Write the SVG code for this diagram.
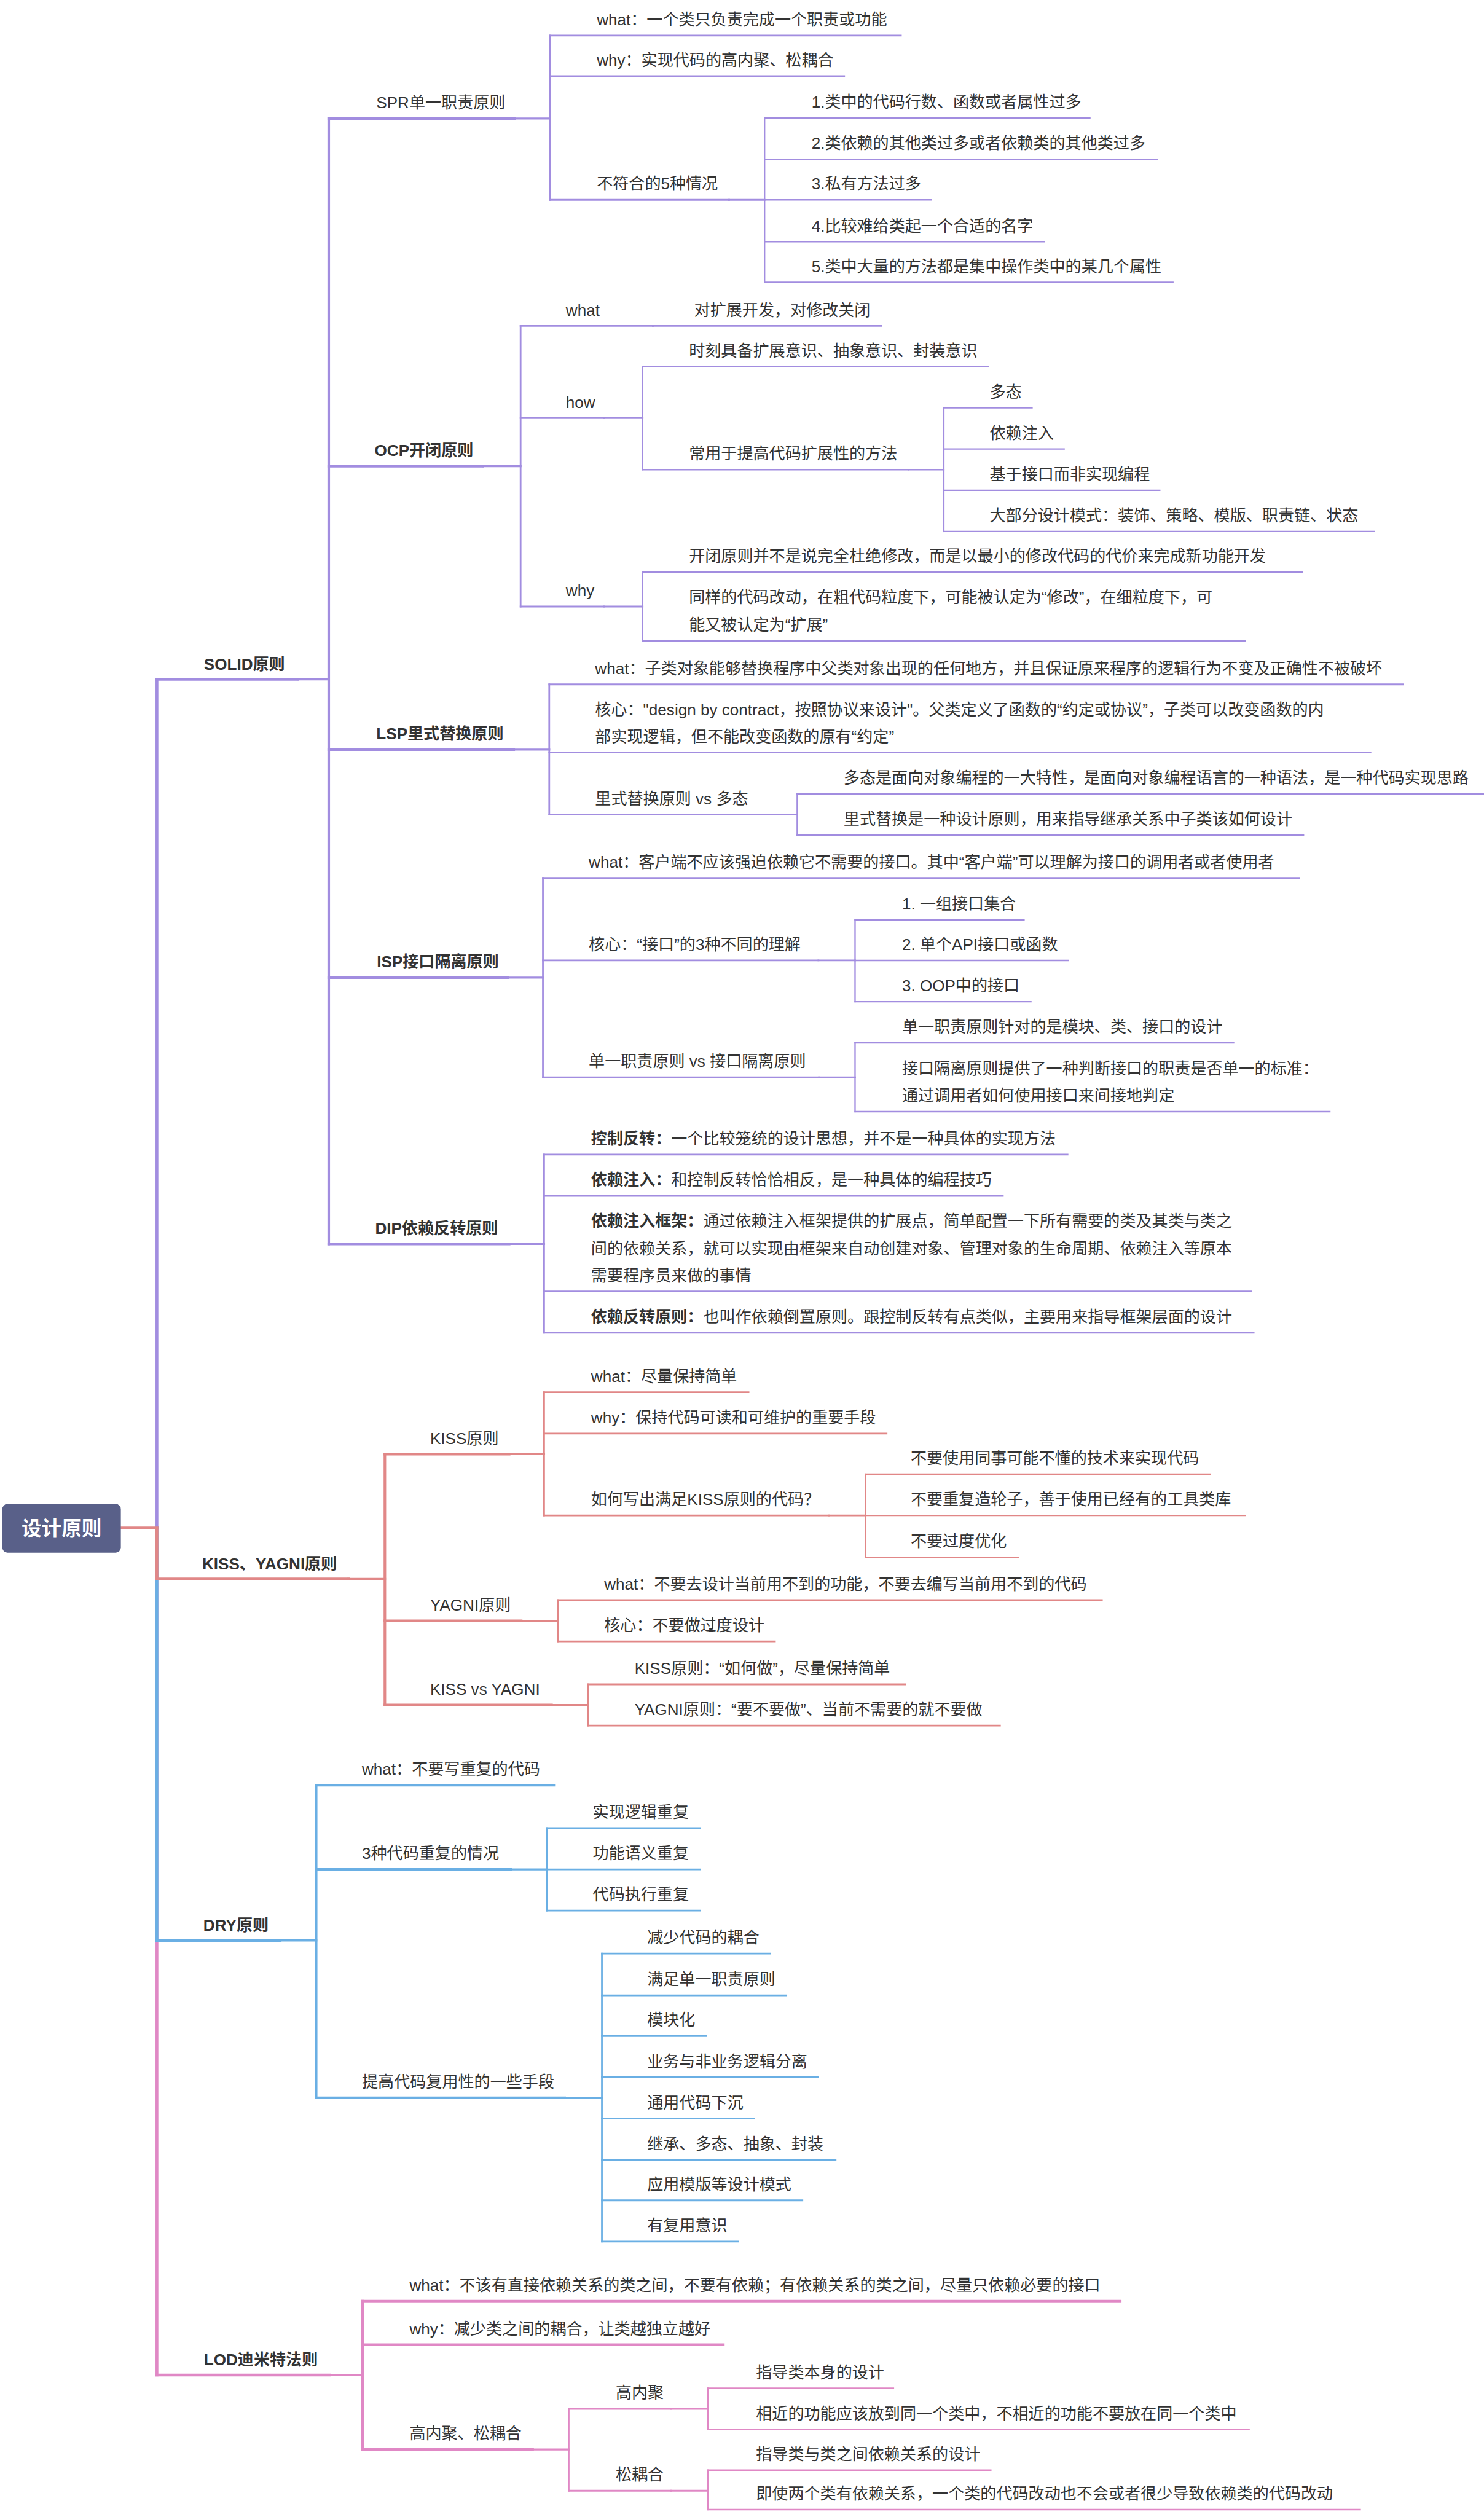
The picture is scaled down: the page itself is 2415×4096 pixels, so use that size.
<svg xmlns="http://www.w3.org/2000/svg" width="2415" height="4096" viewBox="0 0 2415 4096">
<style>
.t{font-family:"Liberation Sans","Noto Sans CJK SC",sans-serif;font-size:28px;fill:#333}
.b{font-weight:bold}
.root{font-family:"Liberation Sans","Noto Sans CJK SC",sans-serif;font-size:35px;font-weight:bold;fill:#fff}
line,path{fill:none;stroke-linecap:square}
.P{stroke:#a28de0}.R{stroke:#e18787}.B{stroke:#6aafe4}.K{stroke:#e088c5}
.w5{stroke-width:5}.w45{stroke-width:4.5}.w4{stroke-width:4}.w35{stroke-width:3.5}.w3{stroke-width:3}.w25{stroke-width:2.5}
</style>
<rect width="2415" height="4096" fill="#fff"/>
<g transform="scale(0.932)">
<g id="connectors">
<path class="K w5" d="M274 2668V4147"/>
<path class="B w5" d="M274 2668V3388"/>
<path class="R w5" d="M274 2668V2757"/>
<path class="P w5" d="M274 2668V1186"/>
<line class="R w5" x1="213" y1="2668" x2="274" y2="2668"/>
<line class="P w4" x1="520" y1="1186" x2="574" y2="1186"/>
<line class="P w45" x1="574" y1="207" x2="574" y2="2172"/>
<line class="R w4" x1="608" y1="2757" x2="672" y2="2757"/>
<line class="R w45" x1="672" y1="2539" x2="672" y2="2977"/>
<line class="B w4" x1="489" y1="3388" x2="552" y2="3388"/>
<line class="B w45" x1="552" y1="3117" x2="552" y2="3663"/>
<line class="K w4" x1="575" y1="4147" x2="633" y2="4147"/>
<line class="K w45" x1="633" y1="4018" x2="633" y2="4277"/>
<line class="P w35" x1="898" y1="207" x2="960" y2="207"/>
<line class="P w3" x1="960" y1="62" x2="960" y2="349"/>
<line class="P w35" x1="843" y1="814" x2="909" y2="814"/>
<line class="P w3" x1="909" y1="569" x2="909" y2="1059"/>
<line class="P w35" x1="897" y1="1309" x2="959" y2="1309"/>
<line class="P w3" x1="959" y1="1195" x2="959" y2="1422"/>
<line class="P w35" x1="887" y1="1707" x2="948" y2="1707"/>
<line class="P w3" x1="948" y1="1533" x2="948" y2="1881"/>
<line class="P w35" x1="889" y1="2172" x2="950" y2="2172"/>
<line class="P w3" x1="950" y1="2016" x2="950" y2="2327"/>
<line class="P w3" x1="1273" y1="349" x2="1335" y2="349"/>
<line class="P w25" x1="1335" y1="206" x2="1335" y2="493"/>
<line class="P w3" x1="1055" y1="730" x2="1122" y2="730"/>
<line class="P w25" x1="1122" y1="640" x2="1122" y2="820"/>
<line class="P w3" x1="1055" y1="1059" x2="1122" y2="1059"/>
<line class="P w25" x1="1122" y1="999" x2="1122" y2="1119"/>
<line class="P w25" x1="1586" y1="820" x2="1648" y2="820"/>
<line class="P w25" x1="1648" y1="712" x2="1648" y2="928"/>
<line class="P w3" x1="1324" y1="1422" x2="1392" y2="1422"/>
<line class="P w25" x1="1392" y1="1386" x2="1392" y2="1458"/>
<line class="P w3" x1="1429" y1="1677" x2="1493" y2="1677"/>
<line class="P w25" x1="1493" y1="1606" x2="1493" y2="1749"/>
<line class="P w3" x1="1430" y1="1881" x2="1493" y2="1881"/>
<line class="P w25" x1="1493" y1="1821" x2="1493" y2="1941"/>
<line class="R w35" x1="889" y1="2539" x2="950" y2="2539"/>
<line class="R w3" x1="950" y1="2431" x2="950" y2="2646"/>
<line class="R w3" x1="1447" y1="2646" x2="1511" y2="2646"/>
<line class="R w25" x1="1511" y1="2574" x2="1511" y2="2719"/>
<line class="R w35" x1="910" y1="2830" x2="974" y2="2830"/>
<line class="R w3" x1="974" y1="2794" x2="974" y2="2866"/>
<line class="R w35" x1="963" y1="2977" x2="1027" y2="2977"/>
<line class="R w3" x1="1027" y1="2941" x2="1027" y2="3013"/>
<line class="B w35" x1="892" y1="3264" x2="955" y2="3264"/>
<line class="B w3" x1="955" y1="3192" x2="955" y2="3336"/>
<line class="B w35" x1="986" y1="3663" x2="1051" y2="3663"/>
<line class="B w3" x1="1051" y1="3411" x2="1051" y2="3914"/>
<line class="K w35" x1="930" y1="4277" x2="993" y2="4277"/>
<line class="K w3" x1="993" y1="4206" x2="993" y2="4349"/>
<line class="K w3" x1="1172" y1="4206" x2="1236" y2="4206"/>
<line class="K w25" x1="1236" y1="4170" x2="1236" y2="4242"/>
<line class="K w3" x1="1172" y1="4349" x2="1236" y2="4349"/>
<line class="K w25" x1="1236" y1="4313" x2="1236" y2="4382"/>
</g>
<g id="root"><rect x="4" y="2626" width="207" height="85" rx="9" fill="#596089"/><text class="root" x="107.5" y="2681" text-anchor="middle">设计原则</text></g>
<g id="n-solid"><text class="t b" x="356" y="1169">SOLID原则</text><line class="P w5" x1="274" y1="1186" x2="520" y2="1186"/></g>
<g id="n-spr"><text class="t" x="657" y="189">SPR单一职责原则</text><line class="P w45" x1="574" y1="207" x2="898" y2="207"/></g>
<g id="n-spr-what"><text class="t" x="1042" y="44">what：一个类只负责完成一个职责或功能</text><line class="P w3" x1="960" y1="62" x2="1573" y2="62"/></g>
<g id="n-spr-why"><text class="t" x="1042" y="115">why：实现代码的高内聚、松耦合</text><line class="P w3" x1="960" y1="133" x2="1474" y2="133"/></g>
<g id="n-spr-5"><text class="t" x="1042" y="331">不符合的5种情况</text><line class="P w3" x1="960" y1="349" x2="1273" y2="349"/></g>
<g id="n-spr-5-1"><text class="t" x="1417" y="188">1.类中的代码行数、函数或者属性过多</text><line class="P w25" x1="1335" y1="206" x2="1903" y2="206"/></g>
<g id="n-spr-5-2"><text class="t" x="1417" y="260">2.类依赖的其他类过多或者依赖类的其他类过多</text><line class="P w25" x1="1335" y1="278" x2="2021" y2="278"/></g>
<g id="n-spr-5-3"><text class="t" x="1417" y="331">3.私有方法过多</text><line class="P w25" x1="1335" y1="349" x2="1626" y2="349"/></g>
<g id="n-spr-5-4"><text class="t" x="1417" y="404">4.比较难给类起一个合适的名字</text><line class="P w25" x1="1335" y1="422" x2="1823" y2="422"/></g>
<g id="n-spr-5-5"><text class="t" x="1417" y="475">5.类中大量的方法都是集中操作类中的某几个属性</text><line class="P w25" x1="1335" y1="493" x2="2048" y2="493"/></g>
<g id="n-ocp"><text class="t b" x="654" y="796">OCP开闭原则</text><line class="P w45" x1="574" y1="814" x2="843" y2="814"/></g>
<g id="n-ocp-what"><text class="t" x="988" y="551">what</text><line class="P w3" x1="909" y1="569" x2="1140" y2="569"/></g>
<g id="n-ocp-what-1"><text class="t" x="1212" y="551">对扩展开发，对修改关闭</text><line class="P w3" x1="1140" y1="569" x2="1539" y2="569"/></g>
<g id="n-ocp-how"><text class="t" x="988" y="712">how</text><line class="P w3" x1="909" y1="730" x2="1055" y2="730"/></g>
<g id="n-ocp-how-1"><text class="t" x="1203" y="622">时刻具备扩展意识、抽象意识、封装意识</text><line class="P w25" x1="1122" y1="640" x2="1726" y2="640"/></g>
<g id="n-ocp-how-2"><text class="t" x="1203" y="802">常用于提高代码扩展性的方法</text><line class="P w25" x1="1122" y1="820" x2="1586" y2="820"/></g>
<g id="n-ocp-how-2-1"><text class="t" x="1728" y="694">多态</text><line class="P w25" x1="1648" y1="712" x2="1802" y2="712"/></g>
<g id="n-ocp-how-2-2"><text class="t" x="1728" y="766">依赖注入</text><line class="P w25" x1="1648" y1="784" x2="1858" y2="784"/></g>
<g id="n-ocp-how-2-3"><text class="t" x="1728" y="838">基于接口而非实现编程</text><line class="P w25" x1="1648" y1="856" x2="2025" y2="856"/></g>
<g id="n-ocp-how-2-4"><text class="t" x="1728" y="910">大部分设计模式：装饰、策略、模版、职责链、状态</text><line class="P w25" x1="1648" y1="928" x2="2400" y2="928"/></g>
<g id="n-ocp-why"><text class="t" x="988" y="1041">why</text><line class="P w3" x1="909" y1="1059" x2="1055" y2="1059"/></g>
<g id="n-ocp-why-1"><text class="t" x="1203" y="981">开闭原则并不是说完全杜绝修改，而是以最小的修改代码的代价来完成新功能开发</text><line class="P w25" x1="1122" y1="999" x2="2274" y2="999"/></g>
<g id="n-ocp-why-2"><text class="t"><tspan x="1203" y="1053">同样的代码改动，在粗代码粒度下，可能被认定为“修改”，在细粒度下，可</tspan><tspan x="1203" y="1101">能又被认定为“扩展”</tspan></text><line class="P w25" x1="1122" y1="1119" x2="2174" y2="1119"/></g>
<g id="n-lsp"><text class="t b" x="657" y="1291">LSP里式替换原则</text><line class="P w45" x1="574" y1="1309" x2="897" y2="1309"/></g>
<g id="n-lsp-what"><text class="t" x="1039" y="1177">what：子类对象能够替换程序中父类对象出现的任何地方，并且保证原来程序的逻辑行为不变及正确性不被破坏</text><line class="P w3" x1="959" y1="1195" x2="2450" y2="1195"/></g>
<g id="n-lsp-core"><text class="t"><tspan x="1039" y="1249">核心："design by contract，按照协议来设计"。父类定义了函数的“约定或协议”，子类可以改变函数的内</tspan><tspan x="1039" y="1296">部实现逻辑，但不能改变函数的原有“约定”</tspan></text><line class="P w3" x1="959" y1="1314" x2="2393" y2="1314"/></g>
<g id="n-lsp-vs"><text class="t" x="1039" y="1404">里式替换原则 vs 多态</text><line class="P w3" x1="959" y1="1422" x2="1324" y2="1422"/></g>
<g id="n-lsp-vs-1"><text class="t" x="1473" y="1368">多态是面向对象编程的一大特性，是面向对象编程语言的一种语法，是一种代码实现思路</text><line class="P w25" x1="1392" y1="1386" x2="2590" y2="1386"/></g>
<g id="n-lsp-vs-2"><text class="t" x="1473" y="1440">里式替换是一种设计原则，用来指导继承关系中子类该如何设计</text><line class="P w25" x1="1392" y1="1458" x2="2276" y2="1458"/></g>
<g id="n-isp"><text class="t b" x="658" y="1689">ISP接口隔离原则</text><line class="P w45" x1="574" y1="1707" x2="887" y2="1707"/></g>
<g id="n-isp-what"><text class="t" x="1028" y="1515">what：客户端不应该强迫依赖它不需要的接口。其中“客户端”可以理解为接口的调用者或者使用者</text><line class="P w3" x1="948" y1="1533" x2="2268" y2="1533"/></g>
<g id="n-isp-core"><text class="t" x="1028" y="1659">核心：“接口”的3种不同的理解</text><line class="P w3" x1="948" y1="1677" x2="1429" y2="1677"/></g>
<g id="n-isp-core-1"><text class="t" x="1575" y="1588">1. 一组接口集合</text><line class="P w25" x1="1493" y1="1606" x2="1788" y2="1606"/></g>
<g id="n-isp-core-2"><text class="t" x="1575" y="1659">2. 单个API接口或函数</text><line class="P w25" x1="1493" y1="1677" x2="1865" y2="1677"/></g>
<g id="n-isp-core-3"><text class="t" x="1575" y="1731">3. OOP中的接口</text><line class="P w25" x1="1493" y1="1749" x2="1800" y2="1749"/></g>
<g id="n-isp-vs"><text class="t" x="1028" y="1863">单一职责原则 vs 接口隔离原则</text><line class="P w3" x1="948" y1="1881" x2="1430" y2="1881"/></g>
<g id="n-isp-vs-1"><text class="t" x="1575" y="1803">单一职责原则针对的是模块、类、接口的设计</text><line class="P w25" x1="1493" y1="1821" x2="2154" y2="1821"/></g>
<g id="n-isp-vs-2"><text class="t"><tspan x="1575" y="1875">接口隔离原则提供了一种判断接口的职责是否单一的标准：</tspan><tspan x="1575" y="1923">通过调用者如何使用接口来间接地判定</tspan></text><line class="P w25" x1="1493" y1="1941" x2="2322" y2="1941"/></g>
<g id="n-dip"><text class="t b" x="655" y="2154">DIP依赖反转原则</text><line class="P w45" x1="574" y1="2172" x2="889" y2="2172"/></g>
<g id="n-dip-1"><text class="t" x="1032" y="1998"><tspan class="b">控制反转：</tspan>一个比较笼统的设计思想，并不是一种具体的实现方法</text><line class="P w3" x1="950" y1="2016" x2="1864" y2="2016"/></g>
<g id="n-dip-2"><text class="t" x="1032" y="2070"><tspan class="b">依赖注入：</tspan>和控制反转恰恰相反，是一种具体的编程技巧</text><line class="P w3" x1="950" y1="2088" x2="1751" y2="2088"/></g>
<g id="n-dip-3"><text class="t"><tspan x="1032" y="2142"><tspan class="b">依赖注入框架：</tspan>通过依赖注入框架提供的扩展点，简单配置一下所有需要的类及其类与类之</tspan><tspan x="1032" y="2190">间的依赖关系，就可以实现由框架来自动创建对象、管理对象的生命周期、依赖注入等原本</tspan><tspan x="1032" y="2237">需要程序员来做的事情</tspan></text><line class="P w3" x1="950" y1="2255" x2="2185" y2="2255"/></g>
<g id="n-dip-4"><text class="t" x="1032" y="2309"><tspan class="b">依赖反转原则：</tspan>也叫作依赖倒置原则。跟控制反转有点类似，主要用来指导框架层面的设计</text><line class="P w3" x1="950" y1="2327" x2="2189" y2="2327"/></g>
<g id="n-kiss-yagni"><text class="t b" x="353" y="2740">KISS、YAGNI原则</text><line class="R w5" x1="274" y1="2757" x2="608" y2="2757"/></g>
<g id="n-kiss"><text class="t" x="751" y="2521">KISS原则</text><line class="R w45" x1="672" y1="2539" x2="889" y2="2539"/></g>
<g id="n-kiss-what"><text class="t" x="1032" y="2413">what：尽量保持简单</text><line class="R w3" x1="950" y1="2431" x2="1307" y2="2431"/></g>
<g id="n-kiss-why"><text class="t" x="1032" y="2485">why：保持代码可读和可维护的重要手段</text><line class="R w3" x1="950" y1="2503" x2="1548" y2="2503"/></g>
<g id="n-kiss-how"><text class="t" x="1032" y="2628">如何写出满足KISS原则的代码？</text><line class="R w3" x1="950" y1="2646" x2="1447" y2="2646"/></g>
<g id="n-kiss-how-1"><text class="t" x="1590" y="2556">不要使用同事可能不懂的技术来实现代码</text><line class="R w25" x1="1511" y1="2574" x2="2113" y2="2574"/></g>
<g id="n-kiss-how-2"><text class="t" x="1590" y="2628">不要重复造轮子，善于使用已经有的工具类库</text><line class="R w25" x1="1511" y1="2646" x2="2174" y2="2646"/></g>
<g id="n-kiss-how-3"><text class="t" x="1590" y="2701">不要过度优化</text><line class="R w25" x1="1511" y1="2719" x2="1778" y2="2719"/></g>
<g id="n-yagni"><text class="t" x="751" y="2812">YAGNI原则</text><line class="R w45" x1="672" y1="2830" x2="910" y2="2830"/></g>
<g id="n-yagni-what"><text class="t" x="1055" y="2776">what：不要去设计当前用不到的功能，不要去编写当前用不到的代码</text><line class="R w3" x1="974" y1="2794" x2="1924" y2="2794"/></g>
<g id="n-yagni-core"><text class="t" x="1055" y="2848">核心：不要做过度设计</text><line class="R w3" x1="974" y1="2866" x2="1353" y2="2866"/></g>
<g id="n-kvy"><text class="t" x="751" y="2959">KISS vs YAGNI</text><line class="R w45" x1="672" y1="2977" x2="963" y2="2977"/></g>
<g id="n-kvy-1"><text class="t" x="1108" y="2923">KISS原则：“如何做”，尽量保持简单</text><line class="R w3" x1="1027" y1="2941" x2="1581" y2="2941"/></g>
<g id="n-kvy-2"><text class="t" x="1108" y="2995">YAGNI原则：“要不要做”、当前不需要的就不要做</text><line class="R w3" x1="1027" y1="3013" x2="1746" y2="3013"/></g>
<g id="n-dry"><text class="t b" x="355" y="3371">DRY原则</text><line class="B w5" x1="274" y1="3388" x2="489" y2="3388"/></g>
<g id="n-dry-what"><text class="t" x="632" y="3099">what：不要写重复的代码</text><line class="B w45" x1="552" y1="3117" x2="967" y2="3117"/></g>
<g id="n-dry-3"><text class="t" x="632" y="3246">3种代码重复的情况</text><line class="B w45" x1="552" y1="3264" x2="892" y2="3264"/></g>
<g id="n-dry-3-1"><text class="t" x="1035" y="3174">实现逻辑重复</text><line class="B w3" x1="955" y1="3192" x2="1222" y2="3192"/></g>
<g id="n-dry-3-2"><text class="t" x="1035" y="3246">功能语义重复</text><line class="B w3" x1="955" y1="3264" x2="1222" y2="3264"/></g>
<g id="n-dry-3-3"><text class="t" x="1035" y="3318">代码执行重复</text><line class="B w3" x1="955" y1="3336" x2="1222" y2="3336"/></g>
<g id="n-dry-reuse"><text class="t" x="632" y="3645">提高代码复用性的一些手段</text><line class="B w45" x1="552" y1="3663" x2="986" y2="3663"/></g>
<g id="n-dry-reuse-1"><text class="t" x="1130" y="3393">减少代码的耦合</text><line class="B w3" x1="1051" y1="3411" x2="1345" y2="3411"/></g>
<g id="n-dry-reuse-2"><text class="t" x="1130" y="3466">满足单一职责原则</text><line class="B w3" x1="1051" y1="3484" x2="1373" y2="3484"/></g>
<g id="n-dry-reuse-3"><text class="t" x="1130" y="3537">模块化</text><line class="B w3" x1="1051" y1="3555" x2="1233" y2="3555"/></g>
<g id="n-dry-reuse-4"><text class="t" x="1130" y="3609">业务与非业务逻辑分离</text><line class="B w3" x1="1051" y1="3627" x2="1428" y2="3627"/></g>
<g id="n-dry-reuse-5"><text class="t" x="1130" y="3681">通用代码下沉</text><line class="B w3" x1="1051" y1="3699" x2="1317" y2="3699"/></g>
<g id="n-dry-reuse-6"><text class="t" x="1130" y="3753">继承、多态、抽象、封装</text><line class="B w3" x1="1051" y1="3771" x2="1459" y2="3771"/></g>
<g id="n-dry-reuse-7"><text class="t" x="1130" y="3824">应用模版等设计模式</text><line class="B w3" x1="1051" y1="3842" x2="1401" y2="3842"/></g>
<g id="n-dry-reuse-8"><text class="t" x="1130" y="3896">有复用意识</text><line class="B w3" x1="1051" y1="3914" x2="1289" y2="3914"/></g>
<g id="n-lod"><text class="t b" x="356" y="4130">LOD迪米特法则</text><line class="K w5" x1="274" y1="4147" x2="575" y2="4147"/></g>
<g id="n-lod-what"><text class="t" x="715" y="4000">what：不该有直接依赖关系的类之间，不要有依赖；有依赖关系的类之间，尽量只依赖必要的接口</text><line class="K w45" x1="633" y1="4018" x2="1956" y2="4018"/></g>
<g id="n-lod-why"><text class="t" x="715" y="4076">why：减少类之间的耦合，让类越独立越好</text><line class="K w45" x1="633" y1="4094" x2="1263" y2="4094"/></g>
<g id="n-lod-hc"><text class="t" x="715" y="4259">高内聚、松耦合</text><line class="K w45" x1="633" y1="4277" x2="930" y2="4277"/></g>
<g id="n-lod-h"><text class="t" x="1075" y="4188">高内聚</text><line class="K w3" x1="993" y1="4206" x2="1172" y2="4206"/></g>
<g id="n-lod-h-1"><text class="t" x="1320" y="4152">指导类本身的设计</text><line class="K w25" x1="1236" y1="4170" x2="1560" y2="4170"/></g>
<g id="n-lod-h-2"><text class="t" x="1320" y="4224">相近的功能应该放到同一个类中，不相近的功能不要放在同一个类中</text><line class="K w25" x1="1236" y1="4242" x2="2181" y2="4242"/></g>
<g id="n-lod-c"><text class="t" x="1075" y="4331">松耦合</text><line class="K w3" x1="993" y1="4349" x2="1172" y2="4349"/></g>
<g id="n-lod-c-1"><text class="t" x="1320" y="4295">指导类与类之间依赖关系的设计</text><line class="K w25" x1="1236" y1="4313" x2="1730" y2="4313"/></g>
<g id="n-lod-c-2"><text class="t" x="1320" y="4364">即使两个类有依赖关系，一个类的代码改动也不会或者很少导致依赖类的代码改动</text><line class="K w25" x1="1236" y1="4382" x2="2375" y2="4382"/></g>
</g>
</svg>
